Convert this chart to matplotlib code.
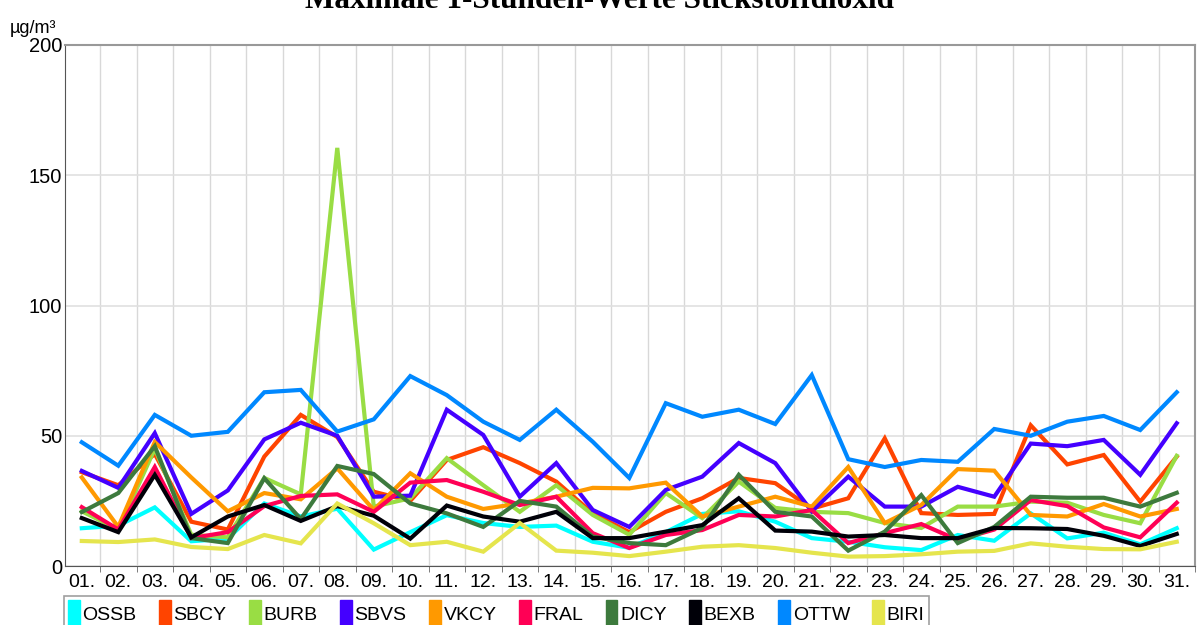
import matplotlib
matplotlib.use("Agg")
import matplotlib.pyplot as plt
import numpy as np

days = np.arange(1, 32)
day_labels = ["%02d." % d for d in days]

ossb = [14.5, 15.5, 22.5, 9.5, 10.5, 24, 19, 22, 6.3, 13, 19.5, 16.5, 15, 15.5, 9.3, 7,
        13, 20, 21, 17, 10.7, 9.3, 7.2, 6.1, 11.9, 9.7, 20.2, 10.6, 12.8, 8.3, 14.5]
sbcy = [36, 31, 43, 17, 14, 42, 58, 49.5, 28.5, 25, 40.7, 45.6, 39.5, 32.4, 20.2, 13,
        20.8, 26, 33.8, 31.8, 22, 26, 49, 20.3, 19.6, 20, 54, 39, 42.6, 24.7, 42]
burb = [21, 14, 45, 12, 11, 33.8, 27.5, 160.5, 22.8, 26, 41.4, 31, 20.8, 31, 19.6, 12,
        28, 18.4, 32.4, 22.3, 20.8, 20.3, 16.5, 14.6, 22.8, 22.8, 24.7, 24.3, 19.6, 16.4, 42.3]
sbvs = [36.5, 30, 51, 20, 29, 48.6, 55, 50, 26.6, 27, 60, 50.3, 26.6, 39.5, 21.5, 15,
        29.2, 34.3, 47.2, 39.5, 21, 34.3, 22.8, 22.8, 30.4, 26.6, 47, 46, 48.4, 35, 54.8]
vkcy = [34, 15, 47.6, 34, 21, 28, 25.6, 37.5, 21.5, 35.6, 26.6, 21.9, 24, 26.6, 30, 29.8,
        32, 19, 22.8, 26.6, 22.8, 38, 16.5, 23.4, 37.2, 36.6, 19.6, 19, 23.8, 19, 21.9]
fral = [22.6, 14, 38, 10.7, 13, 23, 26.9, 27.5, 20.8, 32, 33, 28.5, 23.4, 26.6, 12.6, 6.9,
        11.9, 13.8, 19.6, 19, 21.5, 8.8, 12.6, 16.1, 10, 14, 25.3, 23, 14.8, 11, 24.3]
dicy = [20.7, 28, 46, 10.7, 8.8, 33.7, 18, 38.4, 35.3, 24, 20.2, 15, 25, 22.8, 11.3, 8.8,
        8, 14.6, 35, 20.8, 19, 5.9, 13.2, 27.2, 8.8, 15, 26.6, 26.2, 26.2, 22.8, 28.1]
bexb = [18.4, 13, 35, 11, 19, 23.4, 17.3, 23, 19.3, 10.5, 23.2, 19, 17, 20.8, 10.7, 10.7,
        13.2, 15.7, 26, 13.6, 13.2, 11.3, 11.9, 10.7, 10.7, 14.6, 14.5, 14.2, 11.6, 7.7, 12.3]
ottw = [47.5, 38.5, 58, 50, 51.5, 66.7, 67.6, 51.6, 56.3, 72.9, 65.6, 55.4, 48.4, 60, 47.7, 33.8,
        62.5, 57.3, 60, 54.5, 73.3, 41, 38, 40.7, 40, 52.6, 50, 55.4, 57.6, 52.2, 66.7]
biri = [9.6, 9.2, 10.2, 7.3, 6.5, 11.9, 8.7, 24, 16.4, 8, 9.3, 5.5, 16.5, 5.9, 5.1, 3.8,
        5.5, 7.4, 8, 6.9, 5.1, 3.6, 3.8, 4.5, 5.5, 5.8, 8.7, 7.4, 6.5, 6.4, 9.3]

stations = ["OSSB", "SBCY", "BURB", "SBVS", "VKCY", "FRAL", "DICY", "BEXB", "OTTW", "BIRI"]
series = [ossb, sbcy, burb, sbvs, vkcy, fral, dicy, bexb, ottw, biri]
colors = ["#00FFFF", "#FF4400", "#99DD44", "#4400FF", "#FF9900",
          "#FF0055", "#3D7A3D", "#000008", "#0088FF", "#E5E54D"]

plt.rcParams["font.family"] = ["Liberation Sans", "DejaVu Sans"]

fig = plt.figure(figsize=(11.99, 6.25), dpi=100)
ax = fig.add_axes([65 / 1199, 1 - 566 / 625, 1130 / 1199, 521 / 625])

for name, vals, c in zip(stations, series, colors):
    ax.plot(days, vals, color=c, lw=3, label=name, solid_joinstyle="miter")

ax.set_xlim(0.54, 31.25)
ax.set_ylim(0, 200)
ax.set_yticks([0, 50, 100, 150, 200])
ax.set_xticks(days)
ax.set_xticklabels(day_labels)
ax.set_xticks(days + 0.5, minor=True)
ax.tick_params(axis="x", which="major", length=0, labelsize=14, pad=6)
ax.tick_params(axis="x", which="minor", length=4, color="#666666")
ax.tick_params(axis="y", length=0, labelsize=14.5, pad=2)
ax.grid(True, axis="y", color="#e0e0e0", lw=1.2)
ax.grid(True, axis="x", which="minor", color="#d8d8d8", lw=1)
ax.set_axisbelow(True)
for s in ["left", "bottom"]:
    ax.spines[s].set_color("#555555")
for s in ["top", "right"]:
    ax.spines[s].set_color("#999999")
    ax.spines[s].set_linewidth(1.5)

fig.text(0.5, 1 - 8 / 625, "Maximale 1-Stunden-Werte Stickstoffdioxid",
         ha="center", va="baseline", fontsize=22.5, fontweight="bold",
         family="Liberation Serif")
fig.text(10 / 1199, 1 - 33 / 625, "µg/m³", ha="left", va="baseline", fontsize=13)

handles = [plt.Rectangle((0, 0), 1, 1, color=c) for c in colors]
leg = fig.legend(handles, stations, loc="upper left",
                 bbox_to_anchor=(64 / 1199, 1 - 596 / 625), ncol=10,
                 fontsize=14, frameon=True, fancybox=False, borderpad=0.2,
                 handlelength=0.6, handleheight=1.8, handletextpad=0.15,
                 columnspacing=1.15, borderaxespad=0)
leg.get_frame().set_edgecolor("#888888")
leg.get_frame().set_linewidth(1.2)

fig.savefig("out.png", dpi=100)
